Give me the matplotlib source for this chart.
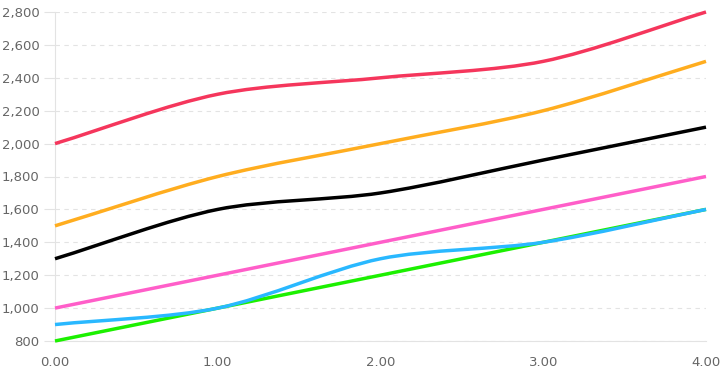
import numpy as np
import matplotlib
matplotlib.use("Agg")
import matplotlib.pyplot as plt
from matplotlib.path import Path
from matplotlib.patches import PathPatch
from matplotlib.ticker import FuncFormatter

# data
x_vals = [0, 1, 2, 3, 4]
red = [2000, 2300, 2400, 2500, 2800]
orange = [1500, 1800, 2000, 2200, 2500]
black = [1300, 1600, 1700, 1900, 2100]
pink = [1000, 1200, 1400, 1600, 1800]
green = [800, 1000, 1200, 1400, 1600]
blue = [900, 1000, 1300, 1400, 1600]

series = [
    (red, "#f5365c"),
    (orange, "#ffad1f"),
    (black, "#000000"),
    (pink, "#ff5ec9"),
    (green, "#1cf000"),
    (blue, "#29b8ff"),
]

W, H = 726, 377
fig = plt.figure(figsize=(W / 100, H / 100), dpi=100)
left, right, top, bottom = 55, 706, 12, 341
ax = fig.add_axes([left / W, 1 - bottom / H, (right - left) / W, (bottom - top) / H])
ax.set_xlim(0, 4)
ax.set_ylim(800, 2800)


def smooth_path(xs, ys, t=0.3):
    # chart.js style bezier control points, computed in pixel space
    sx = (right - left) / 4.0
    sy = (bottom - top) / 2000.0
    px = np.array(xs, float) * sx
    py = np.array(ys, float) * sy
    n = len(px)
    verts = [(xs[0], ys[0])]
    codes = [Path.MOVETO]
    cps = []
    for i in range(n):
        p0 = (px[max(i - 1, 0)], py[max(i - 1, 0)])
        p1 = (px[i], py[i])
        p2 = (px[min(i + 1, n - 1)], py[min(i + 1, n - 1)])
        d01 = np.hypot(p1[0] - p0[0], p1[1] - p0[1])
        d12 = np.hypot(p2[0] - p1[0], p2[1] - p1[1])
        tot = d01 + d12
        s01 = d01 / tot if tot else 0
        s12 = d12 / tot if tot else 0
        fa, fb = t * s01, t * s12
        prev_cp = (p1[0] - fa * (p2[0] - p0[0]), p1[1] - fa * (p2[1] - p0[1]))
        next_cp = (p1[0] + fb * (p2[0] - p0[0]), p1[1] + fb * (p2[1] - p0[1]))
        cps.append((prev_cp, next_cp))
    for i in range(1, n):
        c1 = cps[i - 1][1]
        c2 = cps[i][0]
        verts += [(c1[0] / sx, c1[1] / sy), (c2[0] / sx, c2[1] / sy), (xs[i], ys[i])]
        codes += [Path.CURVE4] * 3
    return Path(verts, codes)


for ys, col in series:
    patch = PathPatch(smooth_path(x_vals, ys), facecolor="none", edgecolor=col,
                      lw=2.5, capstyle="butt", joinstyle="round", clip_on=False, zorder=3)
    ax.add_patch(patch)

ax.set_yticks(range(800, 2801, 200))
ax.set_xticks(x_vals)
ax.yaxis.set_major_formatter(FuncFormatter(lambda v, p: f"{int(v):,}"))
ax.xaxis.set_major_formatter(FuncFormatter(lambda v, p: f"{v:.2f}"))
ax.grid(axis="y", color="#e3e3e3", lw=0.8, ls=(0, (4, 4)))
ax.set_axisbelow(True)

for s in ["top", "right"]:
    ax.spines[s].set_visible(False)
ax.spines["left"].set_color("#e3e3e3")
ax.spines["bottom"].set_color("#e3e3e3")
ax.spines["left"].set_linewidth(0.8)
ax.spines["bottom"].set_linewidth(0.8)

ax.tick_params(axis="y", length=8, color="#e3e3e3", width=0.8, pad=3,
               labelsize=9.5, labelcolor="#666666")
ax.tick_params(axis="x", length=0, pad=11, labelsize=9.5, labelcolor="#666666")

fig.savefig("out.png", dpi=100)
